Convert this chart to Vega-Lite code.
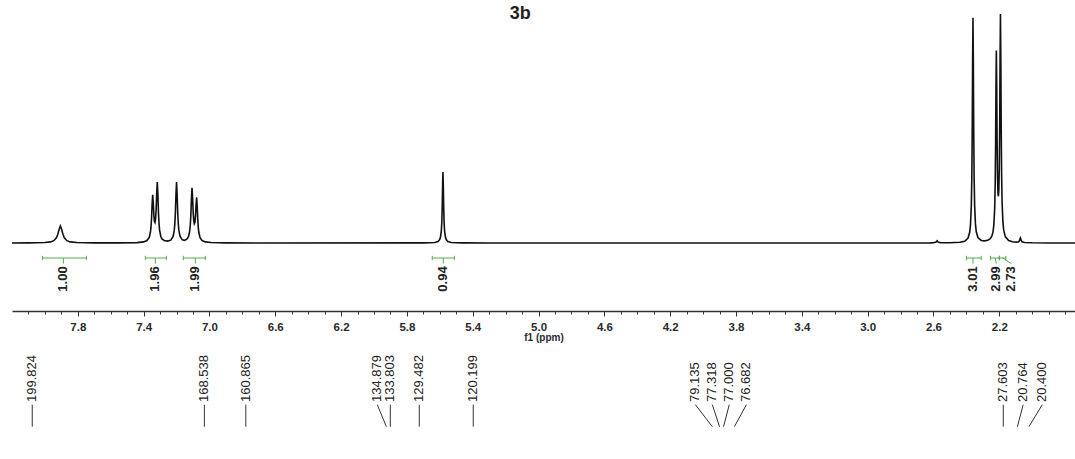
{
  "$schema": "https://vega.github.io/schema/vega-lite/v6.json",
  "width": 1063,
  "height": 459,
  "autosize": {"type": "none"},
  "padding": {"left": 12, "top": 0, "right": 0, "bottom": 0},
  "background": "white",
  "config": {"view": {"stroke": null}, "font": "Liberation Sans"},
  "datasets": {
    "spec": [
      {"ppm": 8.2, "i": 0}, {"ppm": 8.1, "i": 0.05}, {"ppm": 8.0, "i": 0.21}, {"ppm": 7.966, "i": 0.49}, {"ppm": 7.946, "i": 1.02}, {"ppm": 7.93, "i": 2.28}, {"ppm": 7.922, "i": 3.7}, {"ppm": 7.914, "i": 5.92}, {"ppm": 7.906, "i": 7.4}, {"ppm": 7.898, "i": 5.92}, {"ppm": 7.89, "i": 3.7}, {"ppm": 7.882, "i": 2.28}, {"ppm": 7.866, "i": 1.02}, {"ppm": 7.846, "i": 0.49}, {"ppm": 7.806, "i": 0.21}, {"ppm": 7.7, "i": 0.06}, {"ppm": 7.55, "i": 0.04},
      {"ppm": 7.44, "i": 0.18}, {"ppm": 7.4, "i": 0.49}, {"ppm": 7.38, "i": 1.06}, {"ppm": 7.366, "i": 2.46}, {"ppm": 7.359, "i": 4.6}, {"ppm": 7.3555, "i": 6.8}, {"ppm": 7.352, "i": 10.7}, {"ppm": 7.3485, "i": 16.8}, {"ppm": 7.345, "i": 21.0}, {"ppm": 7.3415, "i": 17.5}, {"ppm": 7.338, "i": 12.3}, {"ppm": 7.3345, "i": 9.5}, {"ppm": 7.331, "i": 9.0}, {"ppm": 7.3275, "i": 10.5}, {"ppm": 7.324, "i": 14.7}, {"ppm": 7.3205, "i": 21.9}, {"ppm": 7.317, "i": 26.6}, {"ppm": 7.3135, "i": 21.3}, {"ppm": 7.31, "i": 13.5}, {"ppm": 7.3065, "i": 8.4}, {"ppm": 7.303, "i": 5.6}, {"ppm": 7.296, "i": 2.95}, {"ppm": 7.289, "i": 1.8}, {"ppm": 7.275, "i": 1.1}, {"ppm": 7.255, "i": 0.85}, {"ppm": 7.235, "i": 1.25},
      {"ppm": 7.221, "i": 2.85}, {"ppm": 7.214, "i": 5.5}, {"ppm": 7.2105, "i": 8.35}, {"ppm": 7.207, "i": 13.4}, {"ppm": 7.2035, "i": 21.3}, {"ppm": 7.2, "i": 26.6}, {"ppm": 7.1965, "i": 21.3}, {"ppm": 7.193, "i": 13.4}, {"ppm": 7.1895, "i": 8.4}, {"ppm": 7.186, "i": 5.6}, {"ppm": 7.179, "i": 2.97}, {"ppm": 7.165, "i": 1.4}, {"ppm": 7.15, "i": 1.18},
      {"ppm": 7.135, "i": 1.84}, {"ppm": 7.127, "i": 2.9}, {"ppm": 7.12, "i": 5.3}, {"ppm": 7.1165, "i": 7.85}, {"ppm": 7.113, "i": 12.3}, {"ppm": 7.1095, "i": 19.3}, {"ppm": 7.106, "i": 24.1}, {"ppm": 7.1025, "i": 19.85}, {"ppm": 7.099, "i": 13.4}, {"ppm": 7.0955, "i": 9.7}, {"ppm": 7.092, "i": 8.4}, {"ppm": 7.0885, "i": 8.9}, {"ppm": 7.085, "i": 11.6}, {"ppm": 7.0815, "i": 16.6}, {"ppm": 7.078, "i": 20.0}, {"ppm": 7.0745, "i": 16.0}, {"ppm": 7.071, "i": 10.2}, {"ppm": 7.0675, "i": 6.5}, {"ppm": 7.064, "i": 4.35}, {"ppm": 7.057, "i": 2.3}, {"ppm": 7.045, "i": 1.1}, {"ppm": 7.025, "i": 0.5}, {"ppm": 6.99, "i": 0.2}, {"ppm": 6.9, "i": 0.05}, {"ppm": 6.7, "i": 0},
      {"ppm": 5.7, "i": 0.045}, {"ppm": 5.661, "i": 0.1}, {"ppm": 5.631, "i": 0.25}, {"ppm": 5.611, "i": 0.68}, {"ppm": 5.601, "i": 1.49}, {"ppm": 5.596, "i": 2.57}, {"ppm": 5.591, "i": 5.2}, {"ppm": 5.588, "i": 9.05}, {"ppm": 5.5855, "i": 15.5}, {"ppm": 5.58325, "i": 24.8}, {"ppm": 5.581, "i": 31.0}, {"ppm": 5.57875, "i": 24.8}, {"ppm": 5.5765, "i": 15.5}, {"ppm": 5.574, "i": 9.05}, {"ppm": 5.571, "i": 5.2}, {"ppm": 5.566, "i": 2.57}, {"ppm": 5.561, "i": 1.49}, {"ppm": 5.551, "i": 0.68}, {"ppm": 5.531, "i": 0.25}, {"ppm": 5.501, "i": 0.1}, {"ppm": 5.46, "i": 0.045}, {"ppm": 5.3, "i": 0},
      {"ppm": 2.7, "i": 0.03}, {"ppm": 2.62, "i": 0.06}, {"ppm": 2.6, "i": 0.1}, {"ppm": 2.584, "i": 0.45}, {"ppm": 2.578, "i": 0.95}, {"ppm": 2.572, "i": 0.45}, {"ppm": 2.556, "i": 0.12}, {"ppm": 2.5, "i": 0.1}, {"ppm": 2.44, "i": 0.31}, {"ppm": 2.41, "i": 0.79}, {"ppm": 2.39, "i": 2.16}, {"ppm": 2.38, "i": 4.7}, {"ppm": 2.375, "i": 8.15}, {"ppm": 2.37, "i": 16.5}, {"ppm": 2.367, "i": 28.7}, {"ppm": 2.3645, "i": 49.1}, {"ppm": 2.36225, "i": 78.6}, {"ppm": 2.36, "i": 98.3}, {"ppm": 2.35775, "i": 78.6}, {"ppm": 2.3555, "i": 49.1}, {"ppm": 2.353, "i": 28.7}, {"ppm": 2.35, "i": 16.7}, {"ppm": 2.345, "i": 8.35}, {"ppm": 2.34, "i": 4.9}, {"ppm": 2.33, "i": 2.4}, {"ppm": 2.31, "i": 1.12}, {"ppm": 2.29, "i": 0.93}, {"ppm": 2.27, "i": 1.17}, {"ppm": 2.255, "i": 1.87}, {"ppm": 2.245, "i": 3.06}, {"ppm": 2.238, "i": 4.98}, {"ppm": 2.233, "i": 8.0}, {"ppm": 2.228, "i": 15.3}, {"ppm": 2.225, "i": 25.7}, {"ppm": 2.2225, "i": 42.8}, {"ppm": 2.22025, "i": 67.4}, {"ppm": 2.218, "i": 84.1}, {"ppm": 2.21575, "i": 68.5}, {"ppm": 2.2135, "i": 45.0}, {"ppm": 2.211, "i": 29.4}, {"ppm": 2.208, "i": 21.6}, {"ppm": 2.2055, "i": 20.4}, {"ppm": 2.203, "i": 23.0}, {"ppm": 2.2, "i": 33.1}, {"ppm": 2.1975, "i": 52.2}, {"ppm": 2.19525, "i": 80.6}, {"ppm": 2.193, "i": 100}, {"ppm": 2.19075, "i": 80.1}, {"ppm": 2.1885, "i": 50.6}, {"ppm": 2.186, "i": 30.1}, {"ppm": 2.183, "i": 17.7}, {"ppm": 2.178, "i": 9.1}, {"ppm": 2.173, "i": 5.5}, {"ppm": 2.163, "i": 2.7}, {"ppm": 2.143, "i": 1.07}, {"ppm": 2.12, "i": 0.56}, {"ppm": 2.095, "i": 0.37}, {"ppm": 2.082, "i": 0.58}, {"ppm": 2.077, "i": 1.12}, {"ppm": 2.0745, "i": 1.74}, {"ppm": 2.072, "i": 2.2}, {"ppm": 2.0695, "i": 1.73}, {"ppm": 2.067, "i": 1.1}, {"ppm": 2.062, "i": 0.53}, {"ppm": 2.047, "i": 0.21}, {"ppm": 2.0, "i": 0.09}, {"ppm": 1.9, "i": 0.03}, {"ppm": 1.74, "i": 0.01}
    ],
    "integ": [
      {"label": "1.00", "from": 8.015, "to": 7.748, "mid": 7.888, "lx": 7.888},
      {"label": "1.96", "from": 7.39, "to": 7.262, "mid": 7.329, "lx": 7.329},
      {"label": "1.99", "from": 7.159, "to": 7.025, "mid": 7.086, "lx": 7.086},
      {"label": "0.94", "from": 5.646, "to": 5.512, "mid": 5.579, "lx": 5.579},
      {"label": "3.01", "from": 2.4, "to": 2.31, "mid": 2.36, "lx": 2.36},
      {"label": "2.99", "from": 2.254, "to": 2.2, "mid": 2.225, "lx": 2.218},
      {"label": "2.73", "from": 2.2, "to": 2.16, "mid": 2.18, "lx": 2.127}
    ],
    "carbon": [
      {"c": "199.824", "x": 8.077, "t": 8.077},
      {"c": "168.538", "x": 7.031, "t": 7.031},
      {"c": "160.865", "x": 6.779, "t": 6.779},
      {"c": "134.879", "x": 5.98, "t": 5.925},
      {"c": "133.803", "x": 5.901, "t": 5.901},
      {"c": "129.482", "x": 5.725, "t": 5.725},
      {"c": "120.199", "x": 5.397, "t": 5.397},
      {"c": "79.135", "x": 4.047, "t": 3.944},
      {"c": "77.318", "x": 3.944, "t": 3.9},
      {"c": "77.000", "x": 3.841, "t": 3.876},
      {"c": "76.682", "x": 3.737, "t": 3.81},
      {"c": "27.603", "x": 2.176, "t": 2.176},
      {"c": "20.764", "x": 2.055, "t": 2.09},
      {"c": "20.400", "x": 1.939, "t": 2.02}
    ]
  },
  "resolve": {"axis": {"x": "independent"}},
  "layer": [
    {
      "data": {"name": "spec"},
      "mark": {"type": "line", "color": "#111111", "strokeWidth": 1.6, "interpolate": "linear"},
      "encoding": {
        "x": {"field": "ppm", "type": "quantitative",
          "scale": {"domain": [1.74, 8.2], "reverse": true, "nice": false, "zero": false},
          "axis": {"orient": "bottom", "offset": -148, "values": [7.8, 7.4, 7.0, 6.6, 6.2, 5.8, 5.4, 5.0, 4.6, 4.2, 3.8, 3.4, 3.0, 2.6, 2.2], "format": ".1f", "tickSize": 5, "tickColor": "#333333", "domainColor": "#333333", "domainWidth": 1.3, "labelFont": "Liberation Sans", "labelFontSize": 11.5, "labelFontWeight": "bold", "labelColor": "#2a2a2a", "labelPadding": 5, "labelOverlap": false, "labelFlush": false, "grid": false, "title": "f1 (ppm)", "titleFont": "Liberation Sans", "titleFontSize": 10, "titleFontWeight": "bold", "titleColor": "#2a2a2a", "titlePadding": 0}},
        "y": {"field": "i", "type": "quantitative", "scale": {"domain": [-94.3, 106.1], "nice": false, "zero": false}, "axis": null}
      }
    },
    {
      "data": {"name": "integ"},
      "mark": {"type": "rule", "color": "#55aa55", "strokeWidth": 1},
      "encoding": {
        "x": {"field": "from", "type": "quantitative",
          "scale": {"domain": [1.74, 8.2], "reverse": true, "nice": false, "zero": false},
          "axis": {"orient": "bottom", "offset": -148, "values": [8.1, 8.0, 7.9, 7.7, 7.6, 7.5, 7.3, 7.2, 7.1, 6.9, 6.8, 6.7, 6.5, 6.4, 6.3, 6.1, 6.0, 5.9, 5.7, 5.6, 5.5, 5.3, 5.2, 5.1, 4.9, 4.8, 4.7, 4.5, 4.4, 4.3, 4.1, 4.0, 3.9, 3.7, 3.6, 3.5, 3.3, 3.2, 3.1, 2.9, 2.8, 2.7, 2.5, 2.4, 2.3, 2.1, 2.0, 1.9, 1.8], "tickSize": 3, "tickColor": "#333333", "labels": false, "domain": false, "grid": false, "title": null}},
        "x2": {"field": "to"},
        "y": {"datum": -6.55, "type": "quantitative", "scale": {"domain": [-94.3, 106.1], "nice": false, "zero": false}, "axis": null}
      }
    },
    {
      "data": {"name": "integ"},
      "mark": {"type": "rule", "color": "#55aa55", "strokeWidth": 1},
      "encoding": {
        "x": {"field": "from", "type": "quantitative", "scale": {"domain": [1.74, 8.2], "reverse": true, "nice": false, "zero": false}, "axis": null},
        "y": {"datum": -5.6, "type": "quantitative", "scale": {"domain": [-94.3, 106.1], "nice": false, "zero": false}, "axis": null},
        "y2": {"datum": -7.5}
      }
    },
    {
      "data": {"name": "integ"},
      "mark": {"type": "rule", "color": "#55aa55", "strokeWidth": 1},
      "encoding": {
        "x": {"field": "to", "type": "quantitative", "scale": {"domain": [1.74, 8.2], "reverse": true, "nice": false, "zero": false}, "axis": null},
        "y": {"datum": -5.6, "type": "quantitative", "scale": {"domain": [-94.3, 106.1], "nice": false, "zero": false}, "axis": null},
        "y2": {"datum": -7.5}
      }
    },
    {
      "data": {"name": "integ"},
      "mark": {"type": "rule", "color": "#55aa55", "strokeWidth": 1},
      "encoding": {
        "x": {"field": "mid", "type": "quantitative", "scale": {"domain": [1.74, 8.2], "reverse": true, "nice": false, "zero": false}, "axis": null},
        "x2": {"field": "lx"},
        "y": {"datum": -6.55, "type": "quantitative", "scale": {"domain": [-94.3, 106.1], "nice": false, "zero": false}, "axis": null},
        "y2": {"datum": -9.0}
      }
    },
    {
      "data": {"name": "integ"},
      "mark": {"type": "text", "angle": 270, "align": "center", "baseline": "middle", "font": "Liberation Sans", "fontSize": 13, "fontWeight": "bold", "color": "#222222"},
      "encoding": {
        "x": {"field": "lx", "type": "quantitative", "scale": {"domain": [1.74, 8.2], "reverse": true, "nice": false, "zero": false}, "axis": null},
        "y": {"datum": -15.7, "type": "quantitative", "scale": {"domain": [-94.3, 106.1], "nice": false, "zero": false}, "axis": null},
        "text": {"field": "label"}
      }
    },
    {
      "data": {"name": "carbon"},
      "mark": {"type": "text", "angle": 270, "align": "left", "baseline": "middle", "font": "Liberation Sans", "fontSize": 13, "color": "#222222"},
      "encoding": {
        "x": {"field": "x", "type": "quantitative", "scale": {"domain": [1.74, 8.2], "reverse": true, "nice": false, "zero": false}, "axis": null},
        "y": {"datum": -69.4, "type": "quantitative", "scale": {"domain": [-94.3, 106.1], "nice": false, "zero": false}, "axis": null},
        "text": {"field": "c"}
      }
    },
    {
      "data": {"name": "carbon"},
      "mark": {"type": "rule", "color": "#333333", "strokeWidth": 1},
      "encoding": {
        "x": {"field": "x", "type": "quantitative", "scale": {"domain": [1.74, 8.2], "reverse": true, "nice": false, "zero": false}, "axis": null},
        "x2": {"field": "t"},
        "y": {"datum": -70.6, "type": "quantitative", "scale": {"domain": [-94.3, 106.1], "nice": false, "zero": false}, "axis": null},
        "y2": {"datum": -80.2}
      }
    },
    {
      "data": {"values": [{"name": "3b"}]},
      "mark": {"type": "text", "align": "center", "baseline": "middle", "font": "Liberation Sans", "fontSize": 18, "fontWeight": "bold", "color": "#222222"},
      "encoding": {
        "x": {"datum": 5.111, "type": "quantitative", "scale": {"domain": [1.74, 8.2], "reverse": true, "nice": false, "zero": false}, "axis": null},
        "y": {"datum": 100, "type": "quantitative", "scale": {"domain": [-94.3, 106.1], "nice": false, "zero": false}, "axis": null},
        "text": {"field": "name"}
      }
    }
  ]
}
